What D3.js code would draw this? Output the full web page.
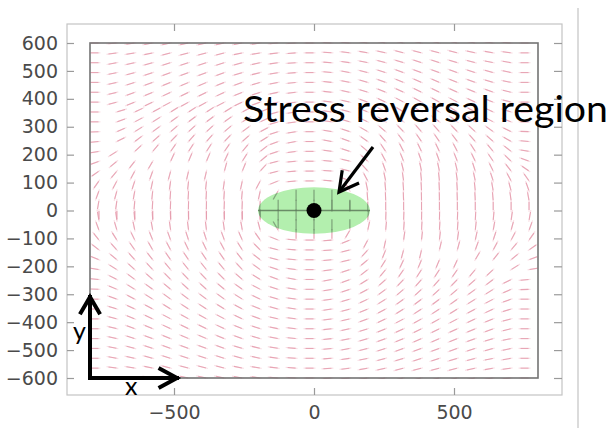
<!DOCTYPE html>
<html>
<head>
<meta charset="utf-8">
<script src="https://cdn.jsdelivr.net/npm/d3@7"></script>
<style>
  body { margin: 0; background: #fff; }
  svg { display: block; }
</style>
</head>
<body>
<svg id="chart" width="612" height="428"></svg>
<script>
// Axis ticks
const yTicks = [600, 500, 400, 300, 200, 100, 0, -100, -200, -300, -400, -500, -600];
const xTicks = [-500, 0, 500];

// Sampling grid of the principal-stress direction field
const gridX = [-768, -704, -640, -576, -512, -448, -384, -320, -256, -192, -128, -64, 0,
               64, 128, 192, 256, 320, 384, 448, 512, 576, 640, 704, 768];
const gridY = [600, 564.7, 529.4, 494.1, 458.8, 423.5, 388.2, 352.9, 317.6, 282.4, 247.1, 211.8,
               176.5, 141.2, 105.9, 70.6, 35.3, 0, -35.3, -70.6, -105.9, -141.2, -176.5, -211.8,
               -247.1, -282.4, -317.6, -352.9, -388.2, -423.5, -458.8, -494.1, -529.4, -564.7, -600];

// Arrow direction (degrees from +x, counter-clockwise) at each grid node, one row per gridY
const angleRows = [
  [0,5,8,10,12,12,12,12,10,8,5,3,0,-3,-5,-8,-10,-12,-12,-12,-12,-10,-8,-5,0],
  [0,8,10,12,15,15,15,15,12,10,7,4,0,-4,-7,-10,-12,-15,-15,-15,-15,-12,-10,-8,0],
  [0,10,12,15,17,18,18,17,15,12,8,4,0,-4,-8,-12,-15,-17,-18,-18,-17,-15,-12,-10,0],
  [0,12,15,18,20,20,20,20,17,14,10,5,0,-5,-10,-14,-17,-20,-20,-20,-20,-18,-15,-12,0],
  [0,12,17,20,22,23,23,22,20,16,11,6,0,-6,-11,-16,-20,-22,-23,-23,-22,-20,-17,-12,0],
  [0,14,20,23,25,26,26,25,22,18,12,6,0,-6,-12,-18,-22,-25,-26,-26,-25,-23,-20,-14,0],
  [0,15,22,25,28,29,29,28,25,20,13,7,0,-7,-13,-20,-25,-28,-29,-29,-28,-25,-22,-15,0],
  [0,-163,-155,-152,-148,-147,-147,-148,-152,-158,15,8,0,-8,-15,-22,-28,-32,-33,-33,-32,-28,-25,-17,0],
  [0,-160,-152,-148,-144,-143,-143,-144,-148,-155,16,8,0,-8,-16,-25,-32,-36,-37,-37,-36,-32,-28,-20,0],
  [2,-157,-148,-144,-140,-138,-138,-140,-144,-152,18,9,0,-9,-18,-30,-40,-46,-48,-48,-46,-42,-36,-26,-2],
  [5,-153,-143,-138,-134,-132,-132,-134,-138,-148,20,10,0,-10,-20,-35,-48,-53,-55,-55,-53,-48,-42,-30,-5],
  [10,32,-137,-130,-125,-123,-123,-125,-130,-142,18,8,0,-8,-18,-40,-56,-62,-64,-64,-62,-57,-50,-38,-10],
  [20,40,52,60,-115,-113,-113,-115,-122,-140,14,5,0,-5,-14,-42,-62,-68,-70,-70,-68,-64,-56,-44,-20],
  [35,50,62,70,75,77,77,-105,-112,-132,14,4,0,-4,-14,-48,-70,-76,-78,-78,-76,-72,-64,-52,-35],
  [55,62,72,78,82,84,84,82,78,62,22,5,0,-5,-22,-62,-78,-82,-84,-84,-82,-78,-72,-62,-55],
  [70,75,80,84,86,87,87,86,85,78,60,90,90,90,-60,-78,-85,-86,-87,-87,-86,-84,-80,-75,-70],
  [80,82,85,87,88,89,89,88,88,86,90,90,90,90,90,-86,-88,-88,-89,-89,-88,-87,-85,-82,-80],
  [90,90,90,90,90,90,90,90,90,90,90,90,90,-90,-90,-90,-90,-90,-90,-90,-90,-90,-90,-90,-90],
  [-80,-82,-85,-87,-88,-89,-89,-88,-88,-86,90,90,90,90,90,-94,-92,-92,-91,-91,-92,-93,-95,-98,-100],
  [-70,-74,-78,-80,-82,-83,-83,-82,-80,-75,-60,90,90,90,60,-102,-95,-94,-93,-93,-94,-96,-100,-105,-110],
  [-52,-58,-64,-68,-70,-72,-72,-70,-66,-55,-22,-5,0,5,22,62,78,-98,-96,-96,-98,-102,-108,-118,-125],
  [-38,-48,-55,-60,-62,-64,-64,-62,-58,-45,-14,-4,0,4,14,48,68,75,77,-103,-105,-110,-118,-130,-145],
  [-22,-40,-48,-52,-55,-56,-56,-55,-52,-38,-14,-5,0,5,14,40,58,65,67,67,65,-120,-128,-140,-160],
  [-10,-32,-42,-47,-50,-51,-51,-50,-47,-36,-18,-8,0,8,18,38,50,55,57,57,55,50,43,-148,-170],
  [-5,-27,-37,-42,-45,-46,-46,-45,-41,-32,-20,-10,0,10,20,32,42,46,48,48,46,42,37,27,5],
  [-2,-23,-32,-36,-40,-42,-42,-40,-36,-28,-18,-9,0,9,18,28,36,40,42,42,40,36,32,23,2],
  [0,-20,-28,-32,-36,-37,-37,-36,-32,-25,-16,-8,0,8,16,25,32,36,37,37,36,32,28,20,0],
  [0,-17,-25,-28,-32,-33,-33,-32,-28,-22,-15,-8,0,8,15,22,28,32,33,33,32,28,25,17,0],
  [0,-15,-22,-25,-28,-29,-29,-28,-25,-20,-13,-7,0,7,13,20,25,28,29,29,28,25,22,15,0],
  [0,-14,-20,-23,-25,-26,-26,-25,-22,-18,-12,-6,0,6,12,18,22,25,26,26,25,23,20,14,0],
  [0,-12,-17,-20,-22,-23,-23,-22,-20,-16,-11,-6,0,6,11,16,20,22,23,23,22,20,17,12,0],
  [0,-12,-15,-18,-20,-20,-20,-20,-17,-14,-10,-5,0,5,10,14,17,20,20,20,20,18,15,12,0],
  [0,-10,-12,-15,-17,-18,-18,-17,-15,-12,-8,-4,0,4,8,12,15,17,18,18,17,15,12,10,0],
  [0,-8,-10,-12,-15,-15,-15,-15,-12,-10,-7,-4,0,4,7,10,12,15,15,15,15,12,10,8,0],
  [0,-5,-8,-10,-12,-12,-12,-12,-10,-8,-5,-3,0,3,5,8,10,12,12,12,12,10,8,5,0]
];

// Highlighted region (centre and semi-axes, in model units)
const regionCenter = [0, 0];
const regionRadii = [200, 83];
const annotationText = "Stress reversal region";
const axisNames = ["x", "y"];

const svg = d3.select("#chart");
const x = d3.scaleLinear().domain([-800, 800]).range([90, 538]);
const y = d3.scaleLinear().domain([-600, 600]).range([378, 43]);

// Outer axes box
const box = { left: 67, top: 24, right: 562, bottom: 395 };
svg.append("rect")
  .attr("x", box.left).attr("y", box.top)
  .attr("width", box.right - box.left).attr("height", box.bottom - box.top)
  .attr("fill", "#fff").attr("stroke", "#c4c4c4").attr("stroke-width", 1.2);

// Page separator on the right
svg.append("line").attr("x1", 578).attr("x2", 578).attr("y1", 8).attr("y2", 428)
  .attr("stroke", "#cfcfcf").attr("stroke-width", 1.5);

const tickFont = "'DejaVu Sans', Verdana, sans-serif";
function styleAxis(g, labels) {
  g.select(".domain").remove();
  g.selectAll(".tick line").attr("stroke", "#9a9a9a").attr("stroke-width", 1.2);
  g.selectAll(".tick text")
    .attr("fill", "#4a4a4a")
    .style("font-family", tickFont)
    .style("font-size", "19px");
  if (!labels) g.selectAll(".tick text").remove();
}

svg.append("g").attr("transform", `translate(${box.left},0)`)
  .call(d3.axisLeft(y).tickValues(yTicks).tickSize(-7).tickPadding(9).tickFormat(d3.format("d")))
  .call(g => styleAxis(g, true));
svg.append("g").attr("transform", `translate(${box.right},0)`)
  .call(d3.axisRight(y).tickValues(yTicks).tickSize(-8))
  .call(g => styleAxis(g, false));
svg.append("g").attr("transform", `translate(0,${box.bottom})`)
  .call(d3.axisBottom(x).tickValues(xTicks).tickSize(-7).tickPadding(11).tickFormat(d3.format("d")))
  .call(g => styleAxis(g, true));
svg.append("g").attr("transform", `translate(0,${box.top})`)
  .call(d3.axisTop(x).tickValues(xTicks).tickSize(-7))
  .call(g => styleAxis(g, false));

// Plot frame and clip
const defs = svg.append("defs");
defs.append("clipPath").attr("id", "plotClip").append("rect")
  .attr("x", x(-800)).attr("y", y(600) - 1)
  .attr("width", x(800) - x(-800)).attr("height", y(-600) - y(600) + 2);

const cx = x(regionCenter[0]), cy = y(regionCenter[1]);
const rx = x(regionCenter[0] + regionRadii[0]) - cx;
const ry = cy - y(regionCenter[1] + regionRadii[1]);
defs.append("clipPath").attr("id", "regionClip").append("ellipse")
  .attr("cx", cx).attr("cy", cy).attr("rx", rx).attr("ry", ry);

// Field nodes
const nodes = [];
angleRows.forEach((row, j) => row.forEach((a, k) => nodes.push({ gx: gridX[k], gy: gridY[j], a })));

// Each arrow starts at its node and runs along (-cos a, +sin a) in screen space
function segment(d, from, to) {
  const r = d.a * Math.PI / 180;
  const px = x(d.gx), py = y(d.gy);
  const dx = -Math.cos(r), dy = Math.sin(r);
  return { x1: px + dx * from, y1: py + dy * from, x2: px + dx * to, y2: py + dy * to };
}

function drawField(parent, from, to, color, width, opacity) {
  parent.selectAll(null).data(nodes).enter().append("line")
    .each(function (d) {
      const s = segment(d, from, to);
      d3.select(this).attr("x1", s.x1).attr("y1", s.y1).attr("x2", s.x2).attr("y2", s.y2);
    })
    .attr("stroke", color).attr("stroke-width", width).attr("stroke-opacity", opacity)
    .attr("stroke-linecap", "butt");
}

const field = svg.append("g").attr("clip-path", "url(#plotClip)");
drawField(field, -1.5, 10.5, "#f9e0e6", 1.2, 1);
drawField(field, 0.5, 8.5, "#e59dae", 1.05, 0.9);

// Plot frame
svg.append("rect")
  .attr("x", x(-800)).attr("y", y(600))
  .attr("width", x(800) - x(-800)).attr("height", y(-600) - y(600))
  .attr("fill", "none").attr("stroke", "#747474").attr("stroke-width", 1.6);

// Highlighted region
svg.append("ellipse")
  .attr("cx", cx).attr("cy", cy).attr("rx", rx).attr("ry", ry)
  .attr("fill", "#b3efae");
const inside = svg.append("g").attr("clip-path", "url(#regionClip)");
drawField(inside, -1, 10, "#6f8f6c", 1.3, 0.75);
svg.append("line")
  .attr("x1", cx - rx).attr("x2", cx + rx).attr("y1", cy).attr("y2", cy)
  .attr("stroke", "#5d7a5a").attr("stroke-width", 1.6).attr("stroke-opacity", 0.85);
svg.append("circle").attr("cx", cx).attr("cy", cy).attr("r", 7.5).attr("fill", "#000");

// Annotation arrow
function arrowHead(tip, back, len, spread) {
  const ang = Math.atan2(back[1] - tip[1], back[0] - tip[0]);
  const a1 = ang + spread, a2 = ang - spread;
  return [[tip[0] + len * Math.cos(a1), tip[1] + len * Math.sin(a1)], tip,
          [tip[0] + len * Math.cos(a2), tip[1] + len * Math.sin(a2)]];
}
const line = d3.line();
const annStart = [373, 147], annTip = [339, 192];
svg.append("path").attr("d", line([annStart, annTip]))
  .attr("stroke", "#000").attr("stroke-width", 3.2).attr("fill", "none");
svg.append("path").attr("d", line(arrowHead(annTip, annStart, 22, 0.5)))
  .attr("stroke", "#000").attr("stroke-width", 3.2).attr("fill", "none")
  .attr("stroke-linejoin", "miter");

svg.append("text")
  .attr("x", 243).attr("y", 122)
  .attr("textLength", 365).attr("lengthAdjust", "spacingAndGlyphs")
  .style("font-family", "Lato, 'Open Sans', sans-serif")
  .style("font-size", "37px")
  .attr("fill", "#000")
  .text(annotationText);

// Coordinate-system arrows
const origin = [x(-800), y(-600)];
const yTip = [origin[0], 297], xTip = [177, origin[1]];
svg.append("path").attr("d", line([yTip, origin, xTip]))
  .attr("stroke", "#000").attr("stroke-width", 4).attr("fill", "none")
  .attr("stroke-linejoin", "miter").attr("stroke-linecap", "square");
svg.append("path").attr("d", line(arrowHead(yTip, origin, 20, 0.53)))
  .attr("stroke", "#000").attr("stroke-width", 4).attr("fill", "none");
svg.append("path").attr("d", line(arrowHead(xTip, origin, 21, 0.5)))
  .attr("stroke", "#000").attr("stroke-width", 4).attr("fill", "none");

svg.append("text").attr("x", 125).attr("y", 395)
  .style("font-family", "Lato, sans-serif").style("font-size", "25px")
  .text(axisNames[0]);
svg.append("text").attr("x", 73).attr("y", 340)
  .style("font-family", "Lato, sans-serif").style("font-size", "25px")
  .text(axisNames[1]);
</script>
</body>
</html>
